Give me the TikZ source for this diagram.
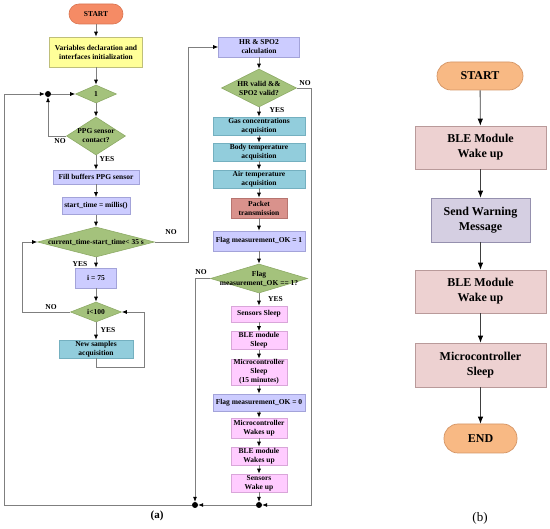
\documentclass[tikz,border=0pt]{standalone}
\usepackage{fontspec}
\setmainfont{Liberation Serif}
\usetikzlibrary{shapes.geometric,arrows.meta}

\definecolor{termfill}{HTML}{F58B65}
\definecolor{termline}{HTML}{D9734F}
\definecolor{initfill}{HTML}{FFFF99}
\definecolor{initline}{HTML}{BFBF7A}
\definecolor{condfill}{HTML}{A4C27C}
\definecolor{condline}{HTML}{8DAA66}
\definecolor{lavfill}{HTML}{CCCCFF}
\definecolor{lavline}{HTML}{A3A3D9}
\definecolor{acqfill}{HTML}{92CDDC}
\definecolor{acqline}{HTML}{74B0C0}
\definecolor{pktfill}{HTML}{D9928C}
\definecolor{pktline}{HTML}{B77570}
\definecolor{slpfill}{HTML}{FFCCFF}
\definecolor{slpline}{HTML}{D9A6D9}
\definecolor{peachfill}{HTML}{F8B984}
\definecolor{peachline}{HTML}{D49565}
\definecolor{blefill}{HTML}{EDD1D1}
\definecolor{bleline}{HTML}{B99A9A}
\definecolor{warnfill}{HTML}{D5CFE2}
\definecolor{warnline}{HTML}{9590AE}
\definecolor{linegray}{HTML}{7F7F7F}
\definecolor{linedark}{HTML}{404040}

\begin{document}
\begin{tikzpicture}[x=1pt, y=-1pt,
  txta/.style={font=\bfseries\fontsize{7.5}{9}\selectfont, align=center, inner sep=0pt},
  txtb/.style={font=\bfseries\fontsize{12}{15}\selectfont, align=center, inner sep=0pt},
  sz/.style 2 args={minimum width=#1, minimum height=#2},
  termA/.style={txta, draw=termline, fill=termfill, rounded corners=10pt, line width=0.6pt},
  initbox/.style={txta, draw=initline, fill=initfill, line width=0.6pt},
  lav/.style={txta, draw=lavline, fill=lavfill, line width=0.6pt},
  acq/.style={txta, draw=acqline, fill=acqfill, line width=0.6pt},
  pkt/.style={txta, draw=pktline, fill=pktfill, line width=0.6pt},
  slp/.style={txta, draw=slpline, fill=slpfill, line width=0.6pt},
  cond/.style={diamond, draw=condline, fill=condfill, inner sep=0pt, line width=0.6pt},
  jdot/.style={circle, fill=black, inner sep=0pt, minimum size=6pt},
  termB/.style={txtb, draw=peachline, fill=peachfill, rounded corners=14pt, line width=0.7pt},
  bleb/.style={txtb, draw=bleline, fill=blefill, line width=0.7pt},
  warnb/.style={txtb, draw=warnline, fill=warnfill, line width=0.7pt},
  flow/.style={draw=linegray, line width=0.7pt, -{Latex[length=5pt, width=4pt, black]}},
  flowb/.style={draw=linedark, line width=0.8pt, -{Latex[length=7pt, width=5.5pt, black]}}]
  \useasboundingbox (0,0) rectangle (550,529);

  % (a) left column
  \node[termA, sz={54}{20}] (start) at (96,14) {START};
  \node[initbox, sz={93}{30}] (init) at (96,52) {Variables declaration and\\interfaces initialization};
  \node[cond, sz={41}{18}, label={[txta]center:1}] (one) at (96,94) {};
  \node[cond, sz={59}{38}, label={[txta]center:{PPG sensor\\contact?}}] (ppg) at (96,136) {};
  \node[lav, sz={86}{14}] (fill) at (96,177) {Fill buffers PPG sensor};
  \node[lav, sz={68}{17}] (st) at (96,206) {start\_time = millis()};
  \node[cond, sz={117}{30}, label={[txta]center:current\_time-start\_time< 35 s}] (tcheck) at (96,242) {};
  \node[lav, sz={41}{20}] (iset) at (96,278) {i = 75};
  \node[cond, sz={51}{20}, label={[txta]center:i<100}] (icheck) at (96,312) {};
  \node[acq, sz={74}{18}] (samples) at (96,349) {New samples\\acquisition};

  % (a) middle column
  \node[lav, sz={81}{20}] (hr) at (259,47) {HR \& SPO2\\calculation};
  \node[cond, sz={75}{38}, label={[txta]center:{HR valid \&\&\\SPO2 valid?}}] (valid) at (259,88) {};
  \node[acq, sz={92}{18}] (gas) at (259,126) {Gas concentrations\\acquisition};
  \node[acq, sz={92}{18}] (body) at (259,152) {Body temperature\\acquisition};
  \node[acq, sz={92}{18}] (air) at (259,179) {Air temperature\\acquisition};
  \node[pkt, sz={56}{20}] (packet) at (259,208) {Packet\\transmission};
  \node[lav, sz={92}{20}] (flagon) at (259,241) {Flag measurement\_OK = 1};
  \node[cond, sz={97}{29}, label={[txta]center:{Flag\\measurement\_OK == 1?}}] (flagchk) at (259,278.5) {};
  \node[slp, sz={56}{16}] (snsleep) at (259,314) {Sensors Sleep};
  \node[slp, sz={56}{18}] (blesleep) at (259,340.5) {BLE module\\Sleep};
  \node[slp, sz={56}{26}] (mcsleep) at (259,372) {Microcontroller\\Sleep\\(15 minutes)};
  \node[lav, sz={92}{17}] (flagoff) at (259,402.5) {Flag measurement\_OK = 0};
  \node[slp, sz={56}{20}] (mcwake) at (259,428) {Microcontroller\\Wakes up};
  \node[slp, sz={56}{18}] (blewake) at (259,456) {BLE module\\Wakes up};
  \node[slp, sz={56}{18}] (snwake) at (259,483) {Sensors\\Wake up};

  % junctions
  \node[jdot] (jtop) at (48,94) {};
  \node[jdot] (jleft) at (195,505) {};
  \node[jdot] (jmid) at (259,505) {};

  % straight links
  \foreach \a/\b in {start/init, init/one, one/ppg, fill/st, st/tcheck, iset/icheck,
    hr/valid, gas/body, body/air, air/packet, packet/flagon, flagon/flagchk,
    snsleep/blesleep, blesleep/mcsleep, mcsleep/flagoff, flagoff/mcwake,
    mcwake/blewake, blewake/snwake, snwake/jmid, jtop/one, jmid/jleft}
    \draw[flow] (\a) -- (\b);
  \draw[flow] (ppg) -- (fill);
  \draw[flow] (tcheck) -- (iset);
  \draw[flow] (icheck) -- (samples);
  \draw[flow] (valid) -- (gas);
  \draw[flow] (flagchk) -- (snsleep);

  % loops
  \draw[flow] (ppg.west) -| (jtop);
  \draw[flow] (samples.south) -- ++(0,9) -- ++(48,0) |- (icheck.east);
  \draw[flow] (icheck.west) -- ++(-48,0) |- (tcheck.west);
  \draw[flow] (tcheck.east) -- ++(34,0) |- (hr.west);
  \draw[flow] (valid.east) -- ++(15,0) |- (jmid);
  \draw[flow] (flagchk.west) -| (jleft);
  \draw[flow] (jleft) -- ++(-191,0) |- (jtop);

  % branch labels
  \node[txta] (yesppg) at (107,159) {YES};
  \node[txta] (noppg) at (60,141) {NO};
  \node[txta] (notime) at (171,232) {NO};
  \node[txta] (yestime) at (80,264) {YES};
  \node[txta] (noi) at (51,307) {NO};
  \node[txta] (yesi) at (108,330) {YES};
  \node[txta] (novalid) at (305,83) {NO};
  \node[txta] (yesvalid) at (277,110) {YES};
  \node[txta] (noflag) at (201,272) {NO};
  \node[txta] (yesflag) at (275.5,299) {YES};

  % (b)
  \node[termB, sz={86}{28}] (bstart) at (480,76) {START};
  \node[bleb, sz={131}{43}] (bwake) at (480.5,147.5) {BLE Module\\Wake up};
  \node[warnb, sz={99}{44}] (bwarn) at (480.5,220) {Send Warning\\Message};
  \node[bleb, sz={131}{43}] (bwaketwo) at (480.5,291.5) {BLE Module\\Wake up};
  \node[bleb, sz={131}{44}] (bsleep) at (480.5,365) {Microcontroller\\Sleep};
  \node[termB, sz={73}{29}] (bend) at (480.5,438.5) {END};
  \foreach \a/\b in {bstart/bwake, bwake/bwarn, bwarn/bwaketwo, bwaketwo/bsleep, bsleep/bend}
    \draw[flowb] (\a) -- (\b);

  % captions
  \node[font=\bfseries\fontsize{11}{13}\selectfont] (capa) at (157,516) {(a)};
  \node[font=\fontsize{13}{15}\selectfont] (capb) at (480,518) {(b)};
\end{tikzpicture}
\end{document}
